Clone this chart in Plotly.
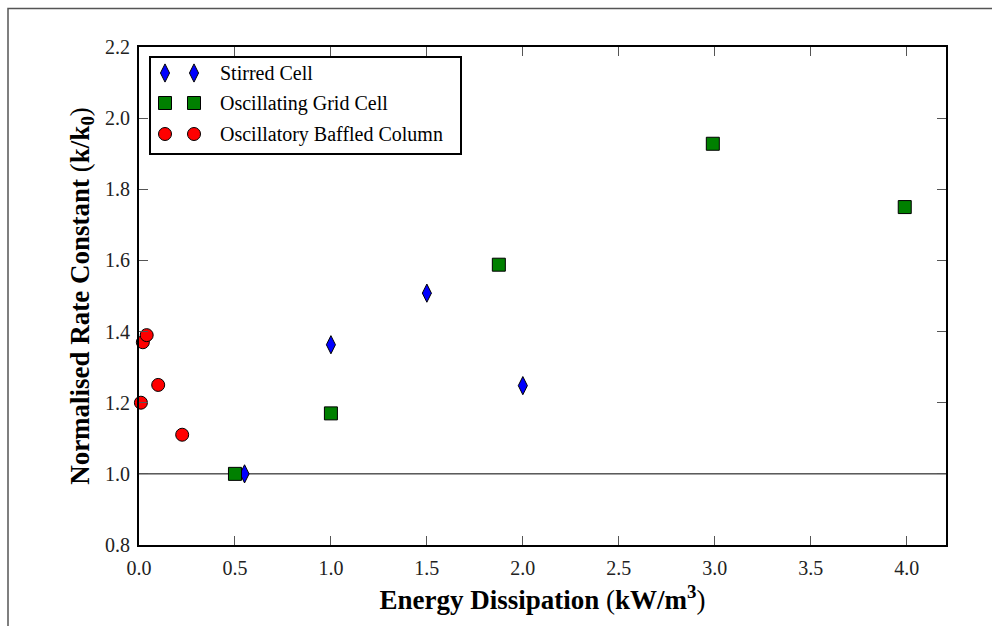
import plotly.graph_objects as go

# Measured rate constants, normalised by k0, against energy dissipation (kW/m^3)
stirred_x = [0.55, 1.0, 1.5, 2.0]
stirred_y = [1.0, 1.363, 1.508, 1.248]

grid_x = [0.5, 1.0, 1.875, 2.99, 3.99]
grid_y = [1.0, 1.17, 1.588, 1.928, 1.75]

obc_x = [0.01, 0.02, 0.04, 0.10, 0.225]
obc_y = [1.2, 1.37, 1.39, 1.25, 1.11]

series_names = ["Stirred Cell", "Oscillating Grid Cell", "Oscillatory Baffled Column"]
series_colors = ["#0000ff", "#008000", "#ff0000"]
series_symbols = ["diamond-tall", "square", "circle"]

x_ticks = [0.0, 0.5, 1.0, 1.5, 2.0, 2.5, 3.0, 3.5, 4.0]
y_ticks = [0.8, 1.0, 1.2, 1.4, 1.6, 1.8, 2.0, 2.2]

W, H = 992, 626
ML, MR, MT, MB = 139, 46, 47, 81
PW, PH = W - ML - MR, H - MT - MB

SERIF = "Liberation Serif, Times New Roman, serif"
marker_size = 13

fig = go.Figure()
for (xs, ys), name, col, sym in zip(
    [(stirred_x, stirred_y), (grid_x, grid_y), (obc_x, obc_y)],
    series_names, series_colors, series_symbols,
):
    fig.add_trace(go.Scatter(
        x=xs, y=ys, mode="markers", name=name, showlegend=False,
        marker=dict(symbol=sym, size=marker_size, color=col,
                    line=dict(color="black", width=1)),
        cliponaxis=False,
    ))

# Reference line at k/k0 = 1
fig.add_shape(type="line", xref="paper", yref="y", x0=0, x1=1, y0=1.0, y1=1.0,
              line=dict(color="black", width=1), layer="below")

# Legend box drawn on a pixel-based overlay axis (two sample markers per row)
leg_box = (11, 10, 322, 107)
leg_rows = [26, 56, 87]
leg_marker_x = [26, 55]
leg_text_x = 79
for row_y, name, col, sym in zip(leg_rows, series_names, series_colors, series_symbols):
    fig.add_trace(go.Scatter(
        x=leg_marker_x, y=[row_y] * len(leg_marker_x), xaxis="x2", yaxis="y2",
        mode="markers", showlegend=False, hoverinfo="skip",
        marker=dict(symbol=sym, size=marker_size, color=col,
                    line=dict(color="black", width=1)),
    ))
    fig.add_annotation(x=leg_text_x, y=row_y, xref="x2", yref="y2", text=name,
                       showarrow=False, xanchor="left", yanchor="middle",
                       font=dict(family=SERIF, size=20, color="black"))
fig.add_shape(type="rect", xref="x2", yref="y2",
              x0=leg_box[0], y0=leg_box[1], x1=leg_box[2], y1=leg_box[3],
              line=dict(color="black", width=2), fillcolor="white", layer="below")

# Outer frame around the figure
fig.add_shape(type="rect", xref="paper", yref="paper",
              x0=(8 - ML) / PW, x1=(1010 - ML) / PW,
              y0=1 - (640 - MT) / PH, y1=1 - (8.5 - MT) / PH,
              line=dict(color="#555555", width=1.5))

axis_common = dict(
    showgrid=False, zeroline=False, showline=True, linecolor="black", linewidth=2,
    mirror="ticks", ticks="inside", ticklen=9, tickwidth=1, tickcolor="#555555",
    tickfont=dict(family=SERIF, size=20, color="#222222"),
)

fig.update_layout(
    width=W, height=H,
    margin=dict(l=ML, r=MR, t=MT, b=MB),
    paper_bgcolor="white", plot_bgcolor="white",
    xaxis=dict(range=[0, 4.205], tickvals=x_ticks,
               ticktext=[f"{v:.1f}" for v in x_ticks],
               ticklabelstandoff=4,
               title=dict(text="<b>Energy Dissipation</b> (<b>kW/m<sup>3</sup></b>)",
                          font=dict(family=SERIF, size=27, color="black"), standoff=12),
               **axis_common),
    yaxis=dict(range=[0.8, 2.2], tickvals=y_ticks,
               ticktext=[f"{v:.1f}" for v in y_ticks],
               ticklabelstandoff=3,
               title=dict(text="<b>Normalised Rate Constant</b> (<b>k/k<sub>0</sub></b>)",
                          font=dict(family=SERIF, size=27, color="black"), standoff=8),
               **axis_common),
    xaxis2=dict(overlaying="x", range=[0, PW], visible=False, fixedrange=True),
    yaxis2=dict(overlaying="y", range=[PH, 0], visible=False, fixedrange=True),
    showlegend=False,
)

fig.write_html("out.html")
